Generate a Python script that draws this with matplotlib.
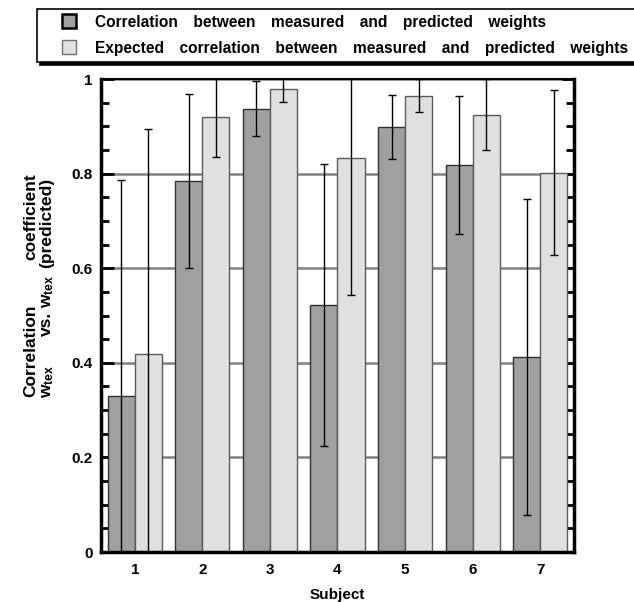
import numpy as np
import matplotlib.pyplot as plt
from matplotlib.lines import Line2D

plt.rcParams['font.family'] = ['Liberation Sans', 'DejaVu Sans']
plt.rcParams['font.weight'] = 'bold'
plt.rcParams['mathtext.fontset'] = 'custom'
plt.rcParams['mathtext.rm'] = 'Liberation Sans:bold'
plt.rcParams['mathtext.bf'] = 'Liberation Sans:bold'
plt.rcParams['mathtext.it'] = 'Liberation Sans:bold'

subjects = [1, 2, 3, 4, 5, 6, 7]
measured = [0.330, 0.784, 0.937, 0.522, 0.898, 0.818, 0.412]
measured_err = [0.456, 0.184, 0.058, 0.298, 0.068, 0.146, 0.334]
expected = [0.419, 0.919, 0.978, 0.834, 0.965, 0.925, 0.802]
expected_err = [0.475, 0.084, 0.026, 0.291, 0.035, 0.076, 0.174]

labels = ['Correlation between measured and predicted weights',
          'Expected correlation between measured and predicted weights']

W, H = 634, 602
fig = plt.figure(figsize=(W / 100, H / 100), dpi=100)
ax = fig.add_axes([0.1593, 0.083, 0.746, 0.7857])

x = np.array(subjects)
w = 0.4
dark, light = '#a0a0a0', '#e0e0e0'
ax.bar(x - w/2, measured, w, color=dark, edgecolor='#303030', linewidth=1, zorder=2)
ax.bar(x + w/2, expected, w, color=light, edgecolor='#5a5a5a', linewidth=1, zorder=2)
ax.errorbar(x - w/2, measured, yerr=measured_err, fmt='none', ecolor='black',
            elinewidth=1, capsize=3, capthick=1, zorder=3)
ax.errorbar(x + w/2, expected, yerr=expected_err, fmt='none', ecolor='black',
            elinewidth=1, capsize=3, capthick=1, zorder=3)

ax.set_xlim(0.5, 7.5)
ax.set_ylim(0, 1)
ax.set_xticks(subjects)
ax.set_yticks([0, 0.2, 0.4, 0.6, 0.8, 1])
ax.set_yticklabels(['0', '0.2', '0.4', '0.6', '0.8', '1'])
ax.set_yticks(np.arange(0, 1.001, 0.05), minor=True)
ax.yaxis.grid(True, color='#808080', linewidth=1.8, zorder=0)
ax.set_axisbelow(True)
ax.tick_params(axis='y', which='major', direction='in', length=9, width=2,
               left=True, right=True, labelsize=11, pad=6)
ax.tick_params(axis='y', which='minor', direction='in', length=6, width=2,
               left=True, right=True)
ax.tick_params(axis='x', length=0, labelsize=11, pad=8)
for s in ['left', 'right', 'bottom']:
    ax.spines[s].set_linewidth(2.5)
ax.spines['top'].set_linewidth(1.5)

ax.set_xlabel('Subject', fontsize=11, fontweight='bold', labelpad=8)


# y label: two justified lines, words placed one by one (pixel coords)
def ylab(txt, xpx, ypx, ha):
    fig.text(xpx / W, 1 - ypx / H, txt, rotation=90, rotation_mode='anchor',
             ha=ha, va='baseline', fontsize=12.5, fontweight='bold')


sub = r'w$_{\mathrm{tex}}$'
ylab('Correlation', 35, 397, 'left')
ylab('coefficient', 35, 173, 'right')
ylab(sub, 51, 398, 'left')
ylab('vs.', 51, 336, 'left')
ylab(sub, 51, 308, 'left')
ylab('(predicted)', 51, 178, 'right')

handles = [Line2D([], [], marker='s', linestyle='none', markersize=9.4,
                  markerfacecolor=dark, markeredgecolor='black', markeredgewidth=1.8),
           Line2D([], [], marker='s', linestyle='none', markersize=9.4,
                  markerfacecolor=light, markeredgecolor='#707070', markeredgewidth=1)]
leg = fig.legend(handles, [l.replace(' ', '\u2003') for l in labels],
                 loc='upper left', bbox_to_anchor=(37 / W, 1 - 9 / H),
                 fontsize=11.2, frameon=True, fancybox=False,
                 shadow={'color': 'black', 'alpha': 1},
                 edgecolor='black', handlelength=3.35, handleheight=0.9,
                 handletextpad=0.0, labelspacing=0.7, borderpad=0.4,
                 borderaxespad=0)
leg.get_frame().set_linewidth(1.2)
for t in leg.get_texts():
    t.set_fontweight('bold')

fig.savefig('out.png', dpi=100)
